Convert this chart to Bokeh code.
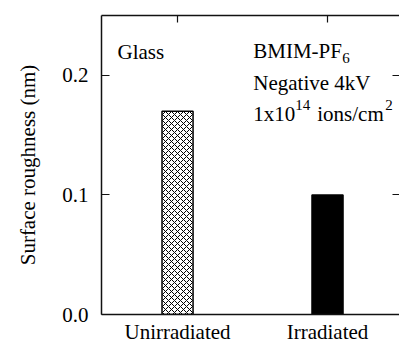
from bokeh.plotting import figure
from bokeh.models import (Range1d, FixedTicker, LinearAxis, Label,
                          ColumnDataSource, PrintfTickFormatter)
from bokeh.embed import file_html
from bokeh.resources import INLINE

# ---- data ----
categories = ["Unirradiated", "Irradiated"]
roughness = [0.17, 0.10]          # nm
fill_colors = ["white", "black"]
hatches = ["x", " "]
y_ticks = [0.0, 0.1, 0.2]

xs = list(range(len(categories)))
src = ColumnDataSource(dict(x=xs, top=roughness, fill=fill_colors, hatch=hatches))

FONT = "Liberation Serif"
FS = "21px"
AX = "#111111"

p = figure(width=399, height=346, output_backend="svg", toolbar_location=None,
           x_range=Range1d(-0.507, 1.48), y_range=Range1d(0, 0.25),
           min_border_left=101, min_border_right=0, min_border_top=15,
           min_border_bottom=30, x_axis_location=None, y_axis_location=None)
p.outline_line_color = None
p.xgrid.visible = False
p.ygrid.visible = False
p.background_fill_color = "white"
p.border_fill_color = "white"

def style(ax, tick_in, show_labels=True, line=True):
    ax.axis_line_color = AX if line else None
    ax.axis_line_width = 1.5
    ax.major_tick_line_color = AX
    ax.major_tick_line_width = 1.2
    ax.major_tick_in = tick_in
    ax.major_tick_out = 0
    ax.minor_tick_line_color = None
    ax.major_label_text_font = FONT
    if show_labels:
        ax.major_label_text_color = "black"
        ax.major_label_text_font_size = FS
    else:
        ax.major_label_text_color = None
        ax.major_label_text_font_size = "1px"
        ax.major_label_standoff = 0

xticker = FixedTicker(ticks=xs)
yticker = FixedTicker(ticks=y_ticks)

xb = LinearAxis(ticker=xticker,
                major_label_overrides={i: c for i, c in enumerate(categories)})
style(xb, 0)
xb.major_label_standoff = 5
p.add_layout(xb, "below")

xt = LinearAxis(ticker=xticker)
style(xt, 7, show_labels=False)
p.add_layout(xt, "above")

yl = LinearAxis(ticker=yticker, formatter=PrintfTickFormatter(format="%.1f"),
                axis_label="Surface roughness (nm)")
style(yl, 8)
yl.major_label_standoff = 13
yl.axis_label_text_font = FONT
yl.axis_label_text_font_size = FS
yl.axis_label_text_font_style = "normal"
yl.axis_label_text_color = "black"
yl.axis_label_standoff = 19
p.add_layout(yl, "left")

yr = LinearAxis(ticker=yticker)
style(yr, 7, show_labels=False, line=False)
p.add_layout(yr, "right")

p.vbar(x="x", top="top", bottom=0, width=0.207, source=src,
       fill_color="fill", line_color="black", line_width=1.5,
       hatch_pattern="hatch", hatch_color="black", hatch_scale=6,
       hatch_weight=1)

def lab(text, x, y, size=FS, xo=0, yo=0):
    p.add_layout(Label(x=x, y=y, x_offset=xo, y_offset=yo, text=text,
                       text_font=FONT, text_font_size=size,
                       text_color="black", text_baseline="alphabetic",
                       text_align="left"))

SUB = "15px"
lab("Glass", -0.4, 0.2193)
lab("BMIM-PF", 0.505, 0.2201)
lab("6", 0.505, 0.2201, size=SUB, xo=89, yo=-7)
lab("Negative 4kV", 0.505, 0.1935)
lab("1x10", 0.505, 0.1678)
lab("14", 0.505, 0.1678, size=SUB, xo=42, yo=9)
lab("ions/cm", 0.505, 0.1678, xo=64)
lab("2", 0.505, 0.1678, size=SUB, xo=132, yo=9)

open("out.html", "w").write(file_html(p, INLINE))
